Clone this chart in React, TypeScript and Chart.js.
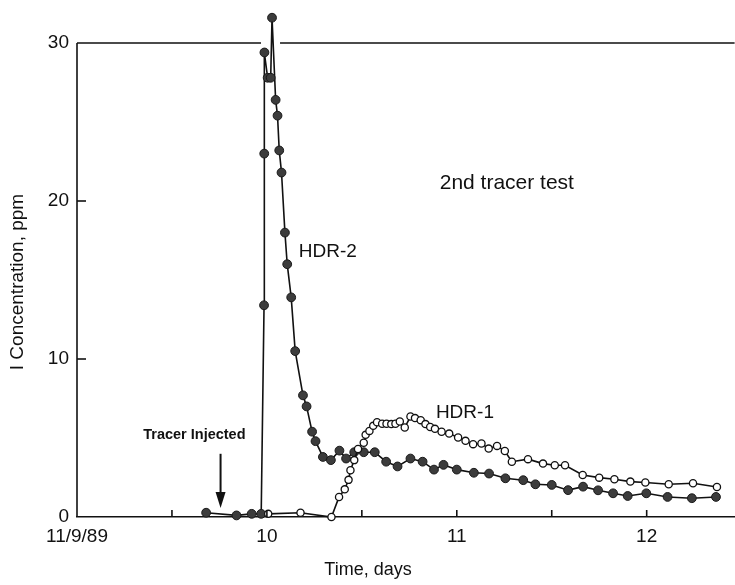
import React, { useEffect, useRef } from 'react';
import { Chart, registerables } from 'chart.js';

Chart.register(...registerables);

// ---- Data ----
const hdr2X = [9.68, 9.84, 9.92, 9.97, 9.985, 9.986, 9.987, 10.004, 10.02, 10.027, 10.046, 10.056, 10.065, 10.077, 10.095, 10.107, 10.128, 10.149, 10.19, 10.209, 10.238, 10.256, 10.295, 10.337, 10.382, 10.417, 10.46, 10.51, 10.568, 10.628, 10.688, 10.756, 10.82, 10.88, 10.93, 11.0, 11.09, 11.17, 11.256, 11.35, 11.414, 11.5, 11.586, 11.665, 11.744, 11.823, 11.9, 11.998, 12.11, 12.238, 12.365];
const hdr2Y = [0.27, 0.1, 0.2, 0.2, 13.4, 23.0, 29.4, 27.8, 27.8, 31.6, 26.4, 25.4, 23.2, 21.8, 18.0, 16.0, 13.9, 10.5, 7.7, 7.0, 5.4, 4.8, 3.8, 3.6, 4.2, 3.7, 4.1, 4.1, 4.1, 3.5, 3.2, 3.7, 3.5, 3.0, 3.3, 3.0, 2.8, 2.75, 2.45, 2.33, 2.07, 2.03, 1.7, 1.92, 1.69, 1.5, 1.33, 1.5, 1.27, 1.19, 1.27];

const hdr1X = [10.007, 10.177, 10.34, 10.38, 10.41, 10.43, 10.44, 10.46, 10.48, 10.51, 10.52, 10.54, 10.56, 10.58, 10.607, 10.63, 10.655, 10.677, 10.7, 10.726, 10.756, 10.78, 10.81, 10.835, 10.86, 10.885, 10.92, 10.96, 11.007, 11.046, 11.086, 11.13, 11.168, 11.212, 11.253, 11.29, 11.375, 11.454, 11.516, 11.57, 11.663, 11.75, 11.83, 11.914, 11.993, 12.116, 12.244, 12.37];
const hdr1Y = [0.2, 0.27, 0.0, 1.27, 1.75, 2.35, 2.96, 3.6, 4.3, 4.7, 5.2, 5.45, 5.77, 6.0, 5.9, 5.9, 5.88, 5.9, 6.04, 5.66, 6.36, 6.26, 6.13, 5.88, 5.7, 5.58, 5.4, 5.28, 5.03, 4.82, 4.61, 4.65, 4.33, 4.5, 4.18, 3.5, 3.66, 3.38, 3.28, 3.28, 2.66, 2.49, 2.39, 2.24, 2.18, 2.07, 2.14, 1.9];

const seriesNames = ['HDR-1', 'HDR-2'];
const xTickValues = [9, 10, 11, 12];
const xTickLabels = ['11/9/89', '10', '11', '12'];
const xMinorTicks = [9.5, 10, 10.5, 11, 11.5, 12];
const yTickValues = [0, 10, 20, 30];
const yInnerTicks = [10, 20];
const yFrameTop = 30;
const xTitle = 'Time, days';
const yTitle = 'I Concentration, ppm';
const plotTitle = '2nd tracer test';
const injectLabel = 'Tracer Injected';
const injectTime = 9.756;

const FONT = '"Liberation Sans", Arial, Helvetica, sans-serif';
const INK = '#111111';

const toPoints = (xs: number[], ys: number[]) => xs.map((x, i) => ({ x, y: ys[i] }));

const decorPlugin = {
  id: 'decor',
  beforeDraw(chart: any) {
    const { ctx, width, height } = chart;
    ctx.save();
    ctx.fillStyle = '#ffffff';
    ctx.fillRect(0, 0, width, height);
    ctx.restore();
  },
  afterDatasetsDraw(chart: any) {
    const { ctx, chartArea } = chart;
    const xs = chart.scales.x;
    const ys = chart.scales.y;
    const yTop = ys.getPixelForValue(yFrameTop);
    const yBot = ys.getPixelForValue(0);
    ctx.save();
    ctx.strokeStyle = INK;
    ctx.fillStyle = INK;
    ctx.lineWidth = 1.6;

    // left axis line (0..30)
    ctx.beginPath();
    ctx.moveTo(chartArea.left, yBot);
    ctx.lineTo(chartArea.left, yTop);
    ctx.stroke();

    // top frame line with a small gap where the HDR-2 peak crosses it
    let peakIdx = 0;
    hdr2Y.forEach((v, i) => { if (v > hdr2Y[peakIdx]) peakIdx = i; });
    const peakPx = xs.getPixelForValue(hdr2X[peakIdx]);
    ctx.beginPath();
    ctx.moveTo(chartArea.left, yTop);
    ctx.lineTo(peakPx - 11, yTop);
    ctx.moveTo(peakPx + 8, yTop);
    ctx.lineTo(chartArea.right, yTop);
    ctx.stroke();

    // inward ticks on y axis
    yInnerTicks.forEach((v) => {
      const py = ys.getPixelForValue(v);
      ctx.beginPath();
      ctx.moveTo(chartArea.left, py);
      ctx.lineTo(chartArea.left + 9, py);
      ctx.stroke();
    });
    // inward ticks on x axis
    xMinorTicks.forEach((v) => {
      const px = xs.getPixelForValue(v);
      ctx.beginPath();
      ctx.moveTo(px, yBot);
      ctx.lineTo(px, yBot - 7);
      ctx.stroke();
    });

    // annotations
    ctx.textBaseline = 'middle';
    ctx.textAlign = 'left';
    ctx.font = `19px ${FONT}`;
    ctx.fillText(seriesNames[1], xs.getPixelForValue(10.168), ys.getPixelForValue(16.8));
    ctx.fillText(seriesNames[0], xs.getPixelForValue(10.89), ys.getPixelForValue(6.6));
    ctx.font = `21px ${FONT}`;
    ctx.fillText(plotTitle, xs.getPixelForValue(10.91), ys.getPixelForValue(21.1));

    // tracer injected label + arrow
    ctx.font = `bold 14.5px ${FONT}`;
    ctx.textAlign = 'center';
    ctx.fillText(injectLabel, xs.getPixelForValue(9.618), ys.getPixelForValue(5.2));
    const ax = xs.getPixelForValue(injectTime);
    const aTop = ys.getPixelForValue(4.0);
    const aTip = ys.getPixelForValue(0.57);
    ctx.lineWidth = 2;
    ctx.beginPath();
    ctx.moveTo(ax, aTop);
    ctx.lineTo(ax, aTip - 12);
    ctx.stroke();
    ctx.beginPath();
    ctx.moveTo(ax - 5, aTip - 16);
    ctx.lineTo(ax + 5, aTip - 16);
    ctx.lineTo(ax, aTip);
    ctx.closePath();
    ctx.fill();

    // axis titles
    ctx.font = `18px ${FONT}`;
    ctx.textAlign = 'center';
    ctx.fillText(xTitle, 368, 570);
    ctx.save();
    ctx.translate(18, 282);
    ctx.rotate(-Math.PI / 2);
    ctx.font = `19px ${FONT}`;
    ctx.fillText(yTitle, 0, 0);
    ctx.restore();
    ctx.restore();
  },
};

export default function App() {
  const ref = useRef<HTMLCanvasElement | null>(null);
  useEffect(() => {
    document.body.style.overflow = 'hidden';
    if (!ref.current) return;
    const chart = new Chart(ref.current, {
      type: 'scatter',
      data: {
        datasets: [
          {
            label: seriesNames[0],
            data: toPoints(hdr1X, hdr1Y),
            showLine: true,
            borderColor: INK,
            borderWidth: 1.6,
            pointRadius: 3.6,
            pointBackgroundColor: '#ffffff',
            pointBorderColor: INK,
            pointBorderWidth: 1.3,
            clip: false,
            order: 0,
          },
          {
            label: seriesNames[1],
            data: toPoints(hdr2X, hdr2Y),
            showLine: true,
            borderColor: INK,
            borderWidth: 1.6,
            pointRadius: 4.4,
            pointBackgroundColor: '#3c3c3c',
            pointBorderColor: '#1a1a1a',
            pointBorderWidth: 1,
            clip: false,
            order: 1,
          },
        ],
      },
      options: {
        animation: false,
        responsive: true,
        maintainAspectRatio: false,
        devicePixelRatio: 1,
        layout: { padding: { top: 11.4, right: 0, bottom: 0, left: 0 } },
        plugins: { legend: { display: false }, tooltip: { enabled: false } },
        scales: {
          x: {
            type: 'linear',
            min: 9,
            max: 12.463,
            afterFit: (s: any) => { s.height = 68; },
            grid: { display: false },
            border: { display: true, color: INK, width: 1.6 },
            ticks: {
              stepSize: 0.5,
              includeBounds: false,
              autoSkip: false,
              maxRotation: 0,
              padding: 0,
              color: INK,
              font: { size: 19, family: FONT },
              callback: (v: any) => {
                const i = xTickValues.indexOf(Number(v));
                return i >= 0 ? xTickLabels[i] : '';
              },
            },
          },
          y: {
            min: 0,
            max: 32,
            afterFit: (s: any) => { s.width = 77; },
            grid: { display: false },
            border: { display: false },
            ticks: {
              stepSize: 10,
              includeBounds: false,
              padding: 0,
              color: INK,
              font: { size: 19, family: FONT },
              callback: (v: any) => (yTickValues.indexOf(Number(v)) >= 0 ? String(v) : ''),
            },
          },
        },
      },
      plugins: [decorPlugin],
    } as any);
    return () => chart.destroy();
  }, []);
  return (
    <div style={{ position: 'fixed', left: 0, top: 0, width: 740, height: 585, background: '#fff', overflow: 'hidden' }}>
      <canvas ref={ref} />
    </div>
  );
}
